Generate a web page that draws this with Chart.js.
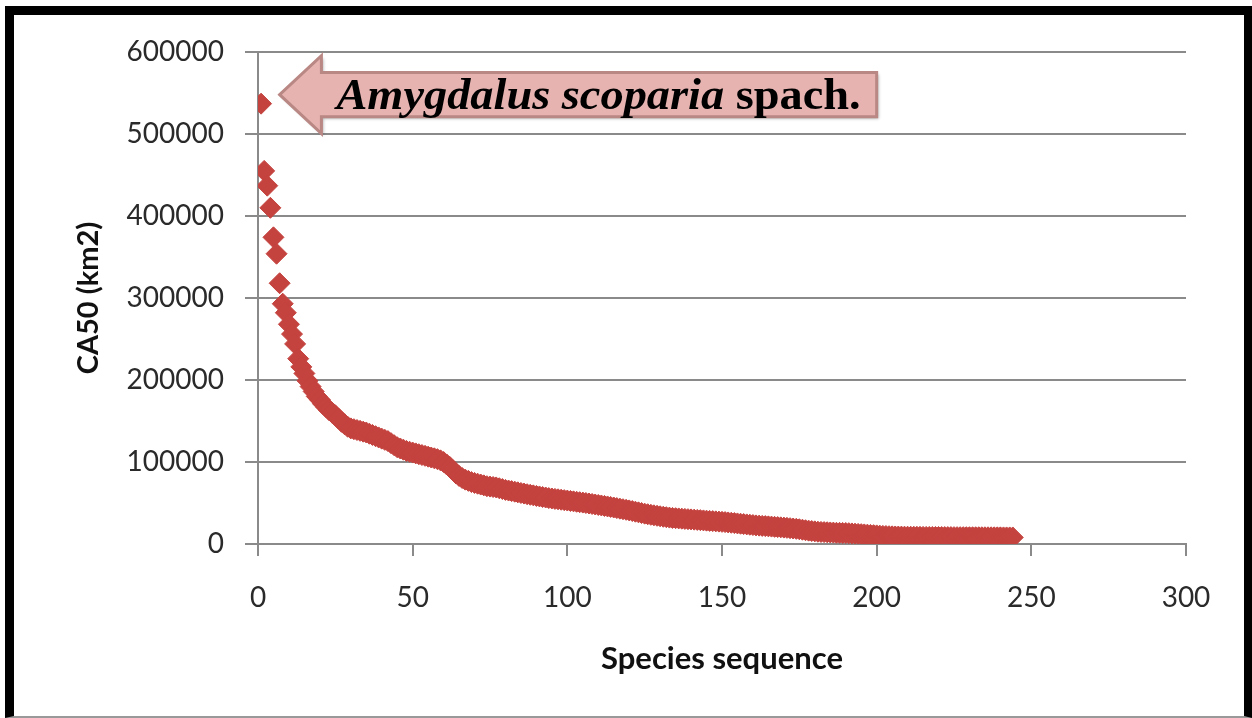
<!DOCTYPE html>
<html>
<head>
<meta charset="utf-8">
<script src="https://cdn.jsdelivr.net/npm/chart.js@4.4.1/dist/chart.umd.min.js"></script>
<style>
  html, body { margin: 0; padding: 0; background: #fff; }
  body { width: 1252px; height: 718px; position: relative; overflow: hidden; }
  .frame {
    position: absolute; left: 5px; top: 6px; width: 1247px; height: 712px;
    box-sizing: border-box;
    border-left: 9px solid #000; border-top: 9px solid #000;
    border-right: 8px solid #000; border-bottom: 2px solid #999;
  }
  #chart { position: absolute; left: 0; top: 0; }
</style>
</head>
<body>
<div class="frame"></div>
<canvas id="chart" width="1252" height="718"></canvas>
<script>
/* ========== Data ========== */
// CA50 (km2) per species, ranked by species sequence 1..244
const ca50 = [
  537000, 455000, 437000, 410000, 374000, 354000, 318000, 293000, 282000, 268000,
  256000, 244000, 226000, 216000, 208000, 199000, 192000, 186000, 180000, 176000,
  171000, 167000, 163000, 160000, 157000, 153000, 149000, 146000, 143000, 141000,
  140000, 139000, 138000, 137000, 136000, 134500, 133000, 131500, 130000, 128500,
  127000, 125500, 123000, 120500, 118000, 116500, 115000, 113500, 112500, 111500,
  110500, 109500, 108500, 107500, 106500, 105500, 104500, 103500, 102000, 100000,
  97000, 94000, 90000, 86000, 83000, 80500, 78500, 77000, 75500, 74500,
  73500, 72500, 71500, 70500, 70000, 69500, 69000, 68000, 67000, 66000,
  65200, 64500, 63800, 63000, 62200, 61500, 60700, 60000, 59300, 58600,
  58000, 57300, 56700, 56000, 55500, 55000, 54500, 54000, 53500, 53000,
  52500, 52000, 51500, 51000, 50500, 50000, 49400, 48800, 48200, 47600,
  47000, 46400, 45800, 45200, 44500, 43800, 43100, 42400, 41700, 41000,
  40200, 39400, 38600, 37800, 37000, 36300, 35600, 35000, 34400, 33800,
  33200, 32700, 32200, 31800, 31500, 31200, 30900, 30600, 30300, 30000,
  29700, 29400, 29100, 28800, 28500, 28200, 27900, 27600, 27300, 27000,
  26700, 26300, 25900, 25500, 25100, 24700, 24300, 23900, 23500, 23100,
  22700, 22400, 22100, 21800, 21500, 21200, 20900, 20600, 20300, 20000,
  19700, 19300, 18900, 18500, 18000, 17400, 16800, 16300, 15800, 15400,
  15000, 14700, 14500, 14300, 14100, 13900, 13700, 13600, 13500, 13400,
  13200, 12900, 12600, 12300, 12000, 11700, 11400, 11100, 10800, 10500,
  10200, 9900, 9700, 9500, 9300, 9200, 9100, 9000, 8950, 8900,
  8850, 8800, 8760, 8720, 8680, 8640, 8600, 8570, 8540, 8510,
  8480, 8450, 8420, 8400, 8380, 8360, 8340, 8320, 8300, 8280,
  8260, 8240, 8220, 8200, 8180, 8160, 8140, 8120, 8100, 8080,
  8060, 8040, 8020, 8000
];

const xTicks = [0, 50, 100, 150, 200, 250, 300];
const yTicks = [0, 100000, 200000, 300000, 400000, 500000, 600000];

const xTitle = 'Species sequence';
const yTitle = 'CA50 (km2)';
const noteItalic = 'Amygdalus scoparia';
const noteRoman = ' spach.';

/* ========== Style ========== */
const RED = '#c4433f';
const GRID = '#8a8a8a';
const FONT = "'Lato', 'Open Sans', sans-serif";

// arrow callout, in data units
const ARROW = { tip: 7, head: 20.5, end: 200, mid: 548000, headHalf: 47500, bodyHalf: 27000 };

/* ========== Arrow note plugin ========== */
const arrowNotePlugin = {
  id: 'arrowNote',
  afterDatasetsDraw(chart) {
    const { ctx, scales: { x, y } } = chart;
    const tipX = x.getPixelForValue(ARROW.tip);
    const headX = x.getPixelForValue(ARROW.head);
    const endX = x.getPixelForValue(ARROW.end);
    const midY = y.getPixelForValue(ARROW.mid);
    const headTop = y.getPixelForValue(ARROW.mid + ARROW.headHalf);
    const headBot = y.getPixelForValue(ARROW.mid - ARROW.headHalf);
    const bodyTop = y.getPixelForValue(ARROW.mid + ARROW.bodyHalf);
    const bodyBot = y.getPixelForValue(ARROW.mid - ARROW.bodyHalf);

    ctx.save();
    ctx.beginPath();
    ctx.moveTo(tipX, midY);
    ctx.lineTo(headX, headTop);
    ctx.lineTo(headX, bodyTop);
    ctx.lineTo(endX, bodyTop);
    ctx.lineTo(endX, bodyBot);
    ctx.lineTo(headX, bodyBot);
    ctx.lineTo(headX, headBot);
    ctx.closePath();
    ctx.shadowColor = 'rgba(0,0,0,0.3)';
    ctx.shadowOffsetX = 2;
    ctx.shadowOffsetY = 2;
    ctx.shadowBlur = 3;
    ctx.fillStyle = '#e6b3b1';
    ctx.fill();
    ctx.shadowColor = 'transparent';
    ctx.lineWidth = 3;
    ctx.lineJoin = 'miter';
    ctx.strokeStyle = '#b98784';
    ctx.stroke();

    // text, stretched to fit the body
    const fItal = "italic bold 44px 'Liberation Serif', 'DejaVu Serif', serif";
    const fRom = "bold 44px 'Liberation Serif', 'DejaVu Serif', serif";
    ctx.font = fItal;
    const wI = ctx.measureText(noteItalic).width;
    ctx.font = fRom;
    const wR = ctx.measureText(noteRoman).width;
    const left = headX + 15;
    const right = endX - 16;
    const sx = (right - left) / (wI + wR);
    ctx.translate(left, midY + 14);
    ctx.scale(sx, 1);
    ctx.fillStyle = '#000';
    ctx.textBaseline = 'alphabetic';
    ctx.textAlign = 'left';
    ctx.font = fItal;
    ctx.fillText(noteItalic, 0, 0);
    ctx.font = fRom;
    ctx.fillText(noteRoman, wI, 0);
    ctx.restore();
  }
};

/* ========== Chart ========== */
function createChart() {
  const points = ca50.map((v, i) => ({ x: i + 1, y: v }));

  new Chart(document.getElementById('chart'), {
    type: 'scatter',
    data: {
      datasets: [{
        data: points,
        pointStyle: 'rectRot',
        pointRadius: 10.5,
        pointHoverRadius: 10.5,
        backgroundColor: RED,
        borderColor: RED,
        borderWidth: 1
      }]
    },
    options: {
      responsive: false,
      animation: false,
      events: [],
      layout: { padding: { left: 67, top: 52, right: 66, bottom: 36 } },
      plugins: {
        legend: { display: false },
        tooltip: { enabled: false }
      },
      scales: {
        x: {
          type: 'linear',
          min: xTicks[0],
          max: xTicks[xTicks.length - 1],
          afterBuildTicks: s => { s.ticks = xTicks.map(v => ({ value: v })); },
          ticks: { padding: 25, color: '#2a2a2a', font: { family: FONT, size: 28 }, callback: v => String(v) },
          grid: { drawOnChartArea: false, drawTicks: true, tickLength: 12, color: GRID, lineWidth: 2 },
          border: { color: GRID, width: 2 },
          title: {
            display: true, text: xTitle, color: '#111',
            font: { family: FONT, size: 31, weight: 'bold' },
            padding: { top: 4, bottom: 4 }
          },
          afterFit: s => { s.height = 138; }
        },
        y: {
          min: yTicks[0],
          max: yTicks[yTicks.length - 1],
          afterBuildTicks: s => { s.ticks = yTicks.map(v => ({ value: v })); },
          ticks: { padding: 21, color: '#2a2a2a', font: { family: FONT, size: 28 }, callback: v => String(v) },
          grid: { tickLength: 13, color: GRID, lineWidth: 2 },
          border: { color: GRID, width: 2 },
          title: {
            display: true, text: yTitle, color: '#111',
            font: { family: FONT, size: 29, weight: 'bold' },
            padding: { top: 4, bottom: 4 }
          },
          afterFit: s => { s.width = 191; }
        }
      }
    },
    plugins: [arrowNotePlugin]
  });
}

createChart();
</script>
</body>
</html>
